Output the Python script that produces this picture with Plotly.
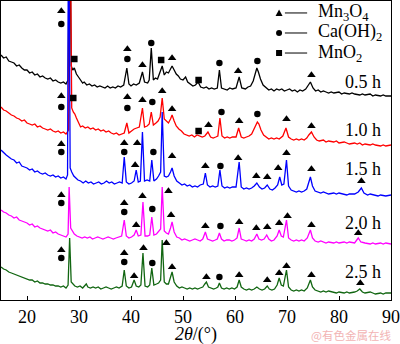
import plotly.graph_objects as go

# ---------------- data (2theta in degrees, intensity in arbitrary units, stacked) ----------------
THETA_RANGE = [15, 90]
INTENSITY_RANGE = [0, 299]
TICKS = [20, 30, 40, 50, 60, 70, 80, 90]

PATTERN_05H = [(15,245),(15.5,242),(16,243),(16.5,239),(17,238),(17.5,237),(18,234),(18.5,235),(19,232),(19.5,230),(20,230),(20.5,227),(21,228),(21.5,225),(22,226),(22.5,223),(23,224),(23.5,222),(24,221),(24.5,222),(25,219),(25.5,220),(26,218),(26.5,217),(27,218),(27.5,216),(27.9,220),(28.2,420),(28.5,234),(28.8,230),(29.1,232),(29.5,226),(29.9,223),(30.3,220),(30.7,217),(31,218),(31.5,215),(32,216),(32.5,214),(33,215),(33.5,213),(34,214),(34.5,213),(35,212),(35.5,214),(36,212),(36.5,213),(37,212),(37.5,214),(38,213),(38.6,215),(39.2,232),(39.6,216),(40,214),(40.5,216),(41,215),(41.6,217),(42.2,228),(42.6,218),(43.2,217),(43.5,220),(43.9,252),(44.3,220),(44.7,222),(45.1,221),(45.5,226),(46.0,234),(46.4,225),(46.8,228),(47.2,227),(47.6,232),(47.9,234),(48.3,230),(48.7,226),(49.1,224),(49.5,221),(50,220),(50.5,223),(50.9,218),(51.4,216),(51.9,214),(52.4,215),(52.9,218),(53.4,213),(54,212),(54.5,213),(55,211),(55.5,212),(56,211),(56.6,212),(57.0,230),(57.4,212),(58,211),(58.5,210),(59,212),(59.5,211),(60.2,212),(60.8,223),(61.3,212),(62,211),(62.5,213),(63,214),(63.5,219),(63.9,227),(64.2,232),(64.5,228),(64.9,221),(65.4,215),(66,212),(66.5,210),(67,211),(67.5,209),(68,211),(68.5,210),(69,211),(69.5,209),(70,210),(70.5,211),(71,209),(71.5,210),(72,208),(72.5,210),(73,209),(73.6,211),(74.5,218),(75,212),(75.5,209),(76,210),(76.5,208),(77,209),(77.5,208),(78,207),(78.5,208),(79,207),(80,208),(80.5,206),(81,207),(82,206),(82.5,207),(83,206),(84,205),(84.5,206),(85,205),(86,206),(86.5,204),(87,205),(88,204),(88.5,205),(89,204),(90,204)]

PATTERN_10H = [(15,193),(15.5,190),(16,189),(16.5,187),(17,185),(17.5,184),(18,182),(18.5,181),(19,179),(19.5,180),(20,177),(20.5,176),(21,175),(21.5,176),(22,173),(22.5,174),(23,172),(23.5,171),(24,170),(24.5,171),(25,169),(25.5,168),(26,169),(26.5,167),(27,168),(27.5,166),(28.0,170),(28.25,420),(28.6,192),(28.9,188),(29.2,186),(29.5,182),(29.9,178),(30.3,173),(30.7,174),(31.2,172),(31.7,173),(32.2,171),(32.7,172),(33.2,170),(33.7,171),(34.2,169),(34.7,170),(35.2,168),(35.7,169),(36.2,167),(36.7,166),(37.2,167),(37.7,165),(38.2,166),(38.7,167),(39.2,177),(39.6,167),(40.1,169),(40.6,171),(41.1,172),(41.6,173),(42.2,192),(42.6,173),(43.1,174),(43.5,176),(43.9,188),(44.3,175),(44.8,177),(45.2,179),(45.6,183),(46.0,202),(46.4,181),(46.8,179),(47.2,177),(47.6,181),(47.9,185),(48.3,179),(48.7,174),(49.2,171),(49.7,169),(50.2,166),(50.7,165),(51.2,164),(51.7,165),(52.2,163),(52.7,165),(53.2,164),(53.7,163),(54.2,164),(54.8,168),(55.3,163),(55.8,162),(56.3,163),(56.7,164),(57.1,182),(57.5,164),(58,162),(58.5,163),(59,162),(59.5,163),(60.2,163),(60.7,172),(61.2,163),(61.7,162),(62.2,163),(62.7,164),(63.2,166),(63.7,171),(64.0,175),(64.3,178),(64.6,176),(65,170),(65.5,165),(66,163),(66.5,161),(67,162),(67.5,161),(68,162),(68.5,161),(69.2,164),(69.8,172),(70.3,163),(70.8,161),(71.3,160),(71.8,161),(72.3,160),(72.8,161),(73.3,160),(73.8,162),(74.2,165),(74.7,168),(75.2,163),(75.7,160),(76.2,159),(77,160),(77.5,158),(78,159),(79,158),(79.5,159),(80,157),(81,158),(81.5,157),(82,156),(83,157),(83.5,156),(84,157),(84.5,155),(85,156),(86,155),(86.5,156),(87,155),(88,154),(88.5,155),(89,154),(90,155)]

PATTERN_15H = [(15,150),(15.5,147),(16,145),(16.5,143),(17,141),(17.5,140),(18,137),(18.5,138),(19,134),(19.5,133),(20,132),(20.5,130),(21,131),(21.5,128),(22,129),(22.5,127),(23,126),(23.5,127),(24,125),(24.5,124),(25,125),(25.5,123),(26,124),(26.5,122),(27,123),(27.5,121),(27.8,125),(28.0,420),(28.3,132),(28.6,128),(29,124),(29.4,122),(29.8,120),(30.3,119),(30.8,117),(31.3,119),(31.8,117),(32.3,118),(32.8,116),(33.3,117),(33.8,118),(34.3,116),(34.8,117),(35.3,119),(35.8,117),(36.3,118),(36.8,116),(37.3,117),(37.8,118),(38.3,117),(38.7,143),(39.1,118),(39.6,116),(40.1,117),(40.6,119),(41.0,130),(41.4,118),(41.8,119),(42.2,168),(42.6,119),(43.1,120),(43.6,119),(44.0,140),(44.4,119),(44.9,121),(45.3,124),(45.7,128),(46.0,188),(46.4,124),(46.8,123),(47.2,124),(47.6,128),(47.9,132),(48.3,124),(48.8,119),(49.3,117),(49.8,115),(50.3,116),(50.8,114),(51.3,115),(51.8,113),(52.3,114),(52.8,113),(53.3,115),(53.9,116),(54.3,127),(54.7,115),(55.2,113),(55.7,114),(56.2,113),(56.7,114),(57.1,130),(57.5,114),(58,112),(58.5,113),(59,112),(59.5,113),(60.2,113),(60.8,138),(61.2,113),(61.7,111),(62.2,112),(62.7,111),(63.2,112),(63.7,114),(64.2,117),(64.7,113),(65.2,111),(65.7,112),(66.2,115),(66.7,111),(67.2,110),(67.7,112),(68.2,115),(68.6,123),(69.0,115),(69.4,116),(69.9,140),(70.3,114),(70.8,110),(71.3,109),(71.8,108),(72.3,109),(72.8,108),(73.3,109),(73.8,111),(74.5,123),(74.9,114),(75.4,109),(76,108),(76.5,107),(77,108),(77.5,107),(78,106),(79,107),(79.5,106),(80,107),(81,106),(81.5,105),(82,106),(83,106),(83.7,108),(84.3,112),(84.8,107),(85.5,105),(86,106),(87,105),(87.5,104),(88,105),(89,104),(90,105)]

PATTERN_20H = [(15,90),(15.5,88),(16,87),(16.5,85),(17,84),(17.5,82),(18,83),(18.5,80),(19,79),(19.5,78),(20,77),(20.5,75),(21,76),(21.5,73),(22,74),(22.5,72),(23,71),(23.5,70),(24,69),(24.5,70),(25,67),(25.5,68),(26,66),(26.5,65),(27,64),(27.5,63),(27.9,66),(28.1,113),(28.4,72),(28.7,69),(29.1,66),(29.6,64),(30.1,63),(30.6,62),(31.1,63),(31.6,62),(32.1,63),(32.6,61),(33.1,62),(33.6,63),(34.1,62),(34.6,61),(35.1,62),(35.6,63),(36.1,62),(36.6,61),(37.1,62),(37.6,63),(38.2,64),(38.7,80),(39.1,64),(39.6,62),(40.1,63),(40.6,65),(41.0,70),(41.4,64),(41.9,65),(42.3,98),(42.7,64),(43.2,64),(43.6,65),(44.0,83),(44.4,65),(44.9,66),(45.3,68),(45.7,71),(46.0,113),(46.4,69),(46.8,67),(47.2,66),(47.6,72),(47.9,78),(48.3,68),(48.8,63),(49.3,62),(49.8,60),(50.3,61),(50.8,60),(51.3,59),(51.8,60),(52.3,61),(52.8,60),(53.3,59),(53.8,61),(54.3,68),(54.7,61),(55.2,60),(55.7,59),(56.2,60),(56.6,61),(57.0,67),(57.4,61),(57.9,59),(58.4,60),(58.9,60),(59.4,59),(59.9,60),(60.4,62),(60.8,72),(61.2,61),(61.7,60),(62.2,59),(62.7,60),(63.2,59),(63.7,61),(64.2,66),(64.6,61),(65.1,60),(65.6,61),(66.1,65),(66.5,61),(67,59),(67.5,60),(68.1,64),(68.5,70),(68.9,64),(69.3,63),(69.9,80),(70.3,62),(70.8,60),(71.3,59),(71.8,60),(72.3,59),(72.8,60),(73.3,59),(73.9,62),(74.5,70),(74.9,62),(75.4,59),(76,58),(76.5,59),(77,58),(77.5,57),(78,58),(79,57),(79.5,58),(80,57),(81,58),(81.5,57),(82,58),(83,57),(83.7,62),(84.2,58),(85,57),(86,56),(86.5,57),(87,56),(88,57),(88.5,56),(89,57),(90,56)]

PATTERN_25H = [(15,33),(15.5,31),(16,30),(16.5,28),(17,27),(17.5,26),(18,25),(18.5,24),(19,23),(19.5,22),(20,21),(20.5,20),(21,20),(21.5,18),(22,19),(22.5,17),(23,17),(23.5,16),(24,16),(24.5,15),(25,15),(25.5,14),(26,14),(26.5,13),(27,14),(27.5,12),(27.9,15),(28.2,62),(28.5,18),(28.8,16),(29.2,14),(29.7,13),(30.2,14),(30.7,12),(31.1,14),(31.4,16),(31.7,13),(32.2,12),(32.7,13),(33.2,12),(33.7,13),(34.2,11),(34.7,12),(35.2,13),(35.7,12),(36.2,11),(36.7,12),(37.2,13),(37.7,12),(38.3,14),(38.7,30),(39.1,14),(39.6,12),(40.1,13),(40.6,20),(41.0,14),(41.5,13),(41.9,15),(42.3,47),(42.7,14),(43.2,13),(43.6,15),(44.0,32),(44.4,15),(44.9,16),(45.3,17),(45.7,20),(46.0,60),(46.4,18),(46.8,16),(47.2,16),(47.6,22),(47.9,28),(48.3,18),(48.8,14),(49.3,12),(49.8,13),(50.3,12),(50.8,11),(51.3,12),(51.8,11),(52.3,12),(52.8,11),(53.3,12),(53.8,13),(54.2,16),(54.5,18),(54.9,13),(55.4,12),(55.9,11),(56.4,12),(56.7,13),(57.0,17),(57.4,12),(57.9,11),(58.4,12),(58.9,11),(59.4,12),(59.9,11),(60.4,13),(60.8,20),(61.2,13),(61.7,11),(62.2,10),(62.7,11),(63.2,10),(63.7,11),(64.2,13),(64.7,11),(65.2,10),(65.7,11),(66.2,14),(66.6,11),(67.1,10),(67.6,11),(68.1,15),(68.5,22),(68.9,15),(69.3,14),(69.9,30),(70.3,13),(70.8,10),(71.3,9),(71.8,10),(72.3,9),(72.8,10),(73.3,9),(73.9,12),(74.5,20),(74.9,13),(75.4,10),(76,9),(76.5,8),(77,9),(77.5,8),(78,9),(79,8),(79.5,7),(80,8),(81,7),(81.5,8),(82,7),(83,8),(83.5,9),(84.0,11),(84.5,8),(85,7),(86,8),(86.5,7),(87,6),(88,7),(88.5,6),(89,7),(90,7)]

SERIES_NAMES = ["0.5 h", "1.0 h", "1.5 h", "2.0 h", "2.5 h"]
SERIES_COLORS = ["#000000", "#ff0000", "#0000ff", "#ff00ff", "#116611"]
SERIES_DATA = [PATTERN_05H, PATTERN_10H, PATTERN_15H, PATTERN_20H, PATTERN_25H]
LABEL_Y = [0.729, 0.569, 0.438, 0.258, 0.094]  # paper positions of the time labels

# phase identification marks (2theta, stacked intensity)
MN3O4_MARKS = [(26.6,289),(39.3,251),(42.2,235),(47.9,242),(60.6,229),(74.7,225),
               (26.6,204),(39.3,203),(42.2,200),(46.0,209),(47.9,191),(54.9,175),(60.8,179),(69.9,181),(74.7,174),
               (26.6,156),(38.7,157),(41.2,157),(40.8,135),(47.9,144),(54.3,134),(60.6,142),(64.1,124),(66.2,123),(68.3,132),(69.9,147),(74.7,131),(84.3,119),
               (26.6,105),(38.7,97),(41.0,75),(42.2,104),(47.2,109),(47.7,85),(54.3,74),(60.8,78),(64.1,72),(66.2,73),(68.5,77),(70.1,84),(74.7,75),(83.7,67),
               (26.6,50),(38.7,47),(40.6,24),(42.4,52),(46.8,57),(47.9,33),(54.5,23),(60.8,25),(66.2,20),(68.5,27),(69.9,34),(74.7,25),(84.1,17)]
CAOH2_MARKS = [(26.6,276),(39.3,241),(43.9,257),(57.0,237),(64.3,239),
               (26.6,193),(39.3,192),(44.1,198),(57.4,188),(64.3,186),
               (26.6,148),(38.7,148),(44.3,148),(57.2,134),
               (26.6,97),(38.7,88),(44.1,91),(57.2,74),
               (26.6,42),(38.7,38),(44.1,37),(57.0,23)]
MNO2_MARKS = [(29.1,241),(45.8,240),(53.0,220),(28.9,202),(53.0,169)]

LEGEND_LABELS = ["Mn<sub>3</sub>O<sub>4</sub>", "Ca(OH)<sub>2</sub>", "MnO<sub>2</sub>"]

SERIF = "Liberation Serif, Times New Roman, serif"

fig = go.Figure()

for name, color, data in zip(SERIES_NAMES, SERIES_COLORS, SERIES_DATA):
    xs = [p[0] for p in data]
    ys = [p[1] for p in data]
    fig.add_trace(go.Scatter(x=xs, y=ys, mode="lines", name=name,
                             line=dict(color=color, width=1.3),
                             showlegend=False, hoverinfo="skip"))

for marks, symbol, size in [(MN3O4_MARKS, "triangle-up", 7.5),
                            (CAOH2_MARKS, "circle", 6.5),
                            (MNO2_MARKS, "square", 6.5)]:
    fig.add_trace(go.Scatter(x=[m[0] for m in marks], y=[m[1] for m in marks],
                             mode="markers", cliponaxis=False,
                             marker=dict(symbol=symbol, size=size, color="black",
                                         line=dict(width=0)),
                             showlegend=False, hoverinfo="skip"))

annotations = []
for name, ly in zip(SERIES_NAMES, LABEL_Y):
    annotations.append(dict(text=name, xref="paper", yref="paper", x=0.979, y=ly,
                            xanchor="right", yanchor="middle", showarrow=False,
                            font=dict(family=SERIF, size=18, color="black")))

# legend (drawn manually: marker, dash, formula)
LEG_Y = [0.960, 0.893, 0.826]
shapes = []
for i, (lab, ly) in enumerate(zip(LEGEND_LABELS, LEG_Y)):
    if i == 0:
        shapes.append(dict(type="path", xref="paper", yref="paper", xsizemode="pixel",
                           ysizemode="pixel", xanchor=0.713, yanchor=ly,
                           path="M -3.5 -3 L 3.5 -3 L 0 3.5 Z",
                           fillcolor="black", line=dict(width=0)))
    elif i == 1:
        shapes.append(dict(type="circle", xref="paper", yref="paper", xsizemode="pixel",
                           ysizemode="pixel", xanchor=0.713, yanchor=ly,
                           x0=-3, x1=3, y0=-3, y1=3, fillcolor="black", line=dict(width=0)))
    else:
        shapes.append(dict(type="rect", xref="paper", yref="paper", xsizemode="pixel",
                           ysizemode="pixel", xanchor=0.713, yanchor=ly,
                           x0=-3, x1=3, y0=-3, y1=3, fillcolor="black", line=dict(width=0)))
    shapes.append(dict(type="line", xref="paper", yref="paper", x0=0.728, x1=0.785,
                       y0=ly, y1=ly, line=dict(color="black", width=1)))
    annotations.append(dict(text=lab, xref="paper", yref="paper", x=0.808, y=ly,
                            xanchor="left", yanchor="middle", showarrow=False,
                            font=dict(family=SERIF, size=18, color="black")))

annotations.append(dict(text="<i>2θ</i>/(°)", xref="paper", yref="paper", x=0.5, y=-0.115,
                        xanchor="center", yanchor="middle", showarrow=False,
                        font=dict(family=SERIF, size=18, color="black")))
annotations.append(dict(text="@有色金属在线", xref="paper", yref="paper", x=1.005, y=-0.117,
                        xanchor="right", yanchor="middle", showarrow=False,
                        font=dict(family="Noto Sans CJK SC", size=11.5, color="#f2b4b4")))

fig.update_layout(
    width=400, height=344,
    margin=dict(l=1, r=9, t=1, b=44),
    plot_bgcolor="white", paper_bgcolor="white",
    xaxis=dict(range=THETA_RANGE, tickvals=TICKS, ticks="inside", ticklen=4,
               tickwidth=1, tickcolor="black", showline=True, mirror=True,
               linecolor="black", linewidth=1.3, showgrid=False, zeroline=False,
               tickfont=dict(family=SERIF, size=18, color="black")),
    yaxis=dict(range=INTENSITY_RANGE, showticklabels=False, ticks="", showline=True,
               mirror=True, linecolor="black", linewidth=1.3, showgrid=False,
               zeroline=False),
    annotations=annotations, shapes=shapes,
)

fig.write_html("out.html")
